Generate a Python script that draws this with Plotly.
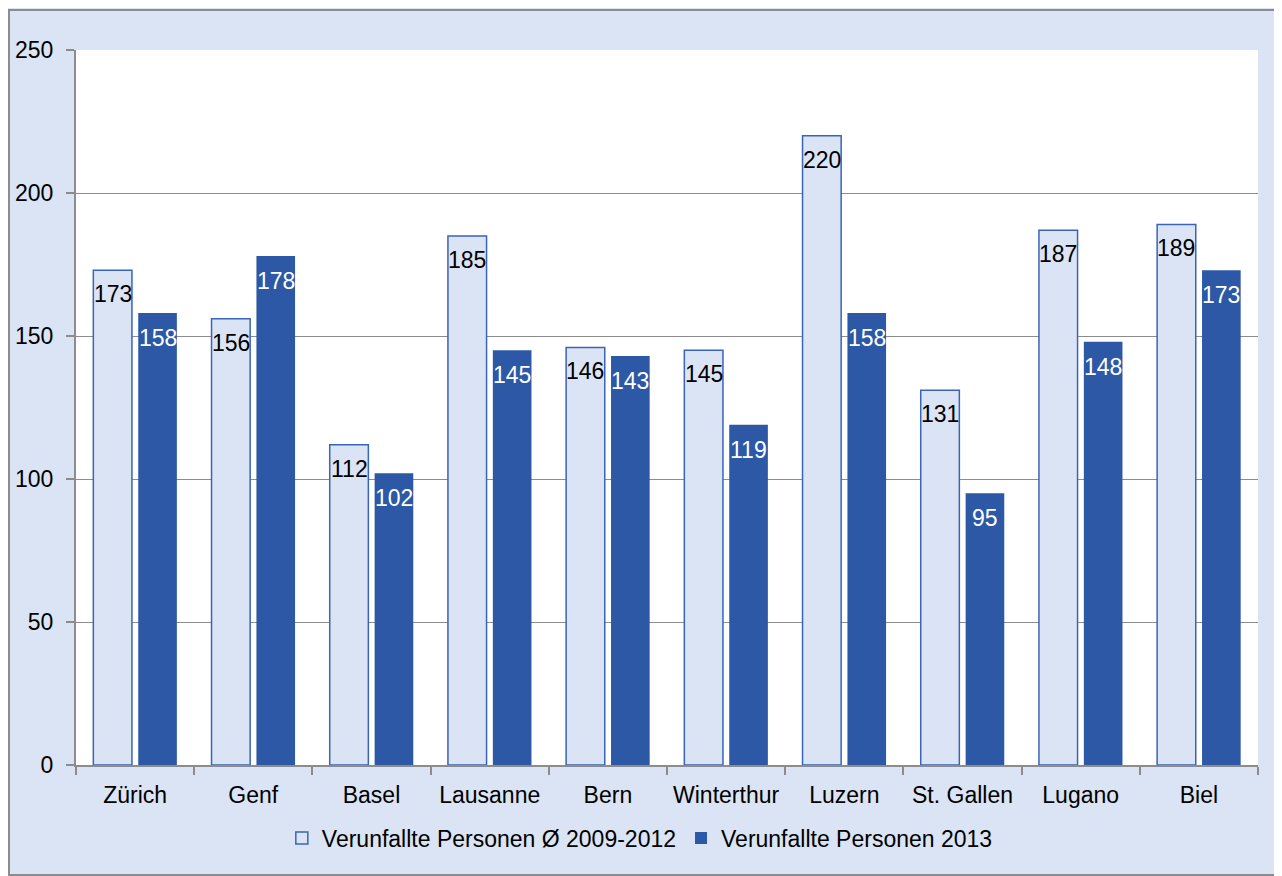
import plotly.graph_objects as go

cities = ["Zürich", "Genf", "Basel", "Lausanne", "Bern", "Winterthur", "Luzern", "St. Gallen", "Lugano", "Biel"]
avg_2009_2012 = [173, 156, 112, 185, 146, 145, 220, 131, 187, 189]
val_2013 = [158, 178, 102, 145, 143, 119, 158, 95, 148, 173]
name_avg = "Verunfallte Personen Ø 2009-2012"
name_2013 = "Verunfallte Personen 2013"
y_ticks = [0, 50, 100, 150, 200, 250]

FONT = "Liberation Sans, Arial, sans-serif"
FS = 23
BG = "#dbe4f4"
DARK = "#2c58a5"
EDGE = "#3a64b5"

fig = go.Figure()
fig.add_trace(go.Bar(
    x=cities, y=avg_2009_2012, name=name_avg,
    marker=dict(color=BG, line=dict(color=EDGE, width=1.5)),
))
fig.add_trace(go.Bar(
    x=cities, y=val_2013, name=name_2013,
    marker=dict(color=DARK, line=dict(color=DARK, width=0)),
))

# data labels, placed just inside the top of each bar
for c, v in zip(cities, avg_2009_2012):
    fig.add_annotation(x=c, y=v, text=str(v), showarrow=False, xshift=-22.5, yshift=-24,
                       yanchor="middle", font=dict(color="black", size=FS, family=FONT))
for c, v in zip(cities, val_2013):
    fig.add_annotation(x=c, y=v, text=str(v), showarrow=False, xshift=22.5, yshift=-25,
                       yanchor="middle", font=dict(color="white", size=FS, family=FONT))

fig.update_layout(
    width=1274, height=868,
    margin=dict(l=68, r=24, t=42, b=111, autoexpand=False),
    paper_bgcolor=BG, plot_bgcolor="white",
    barmode="group", bargap=0.24, bargroupgap=0.14,
    font=dict(family=FONT, size=FS, color="black"),
    legend=dict(orientation="h", x=0.477, xanchor="center", y=-0.102, yanchor="middle",
                bgcolor="rgba(0,0,0,0)", font=dict(size=FS, family=FONT),
                itemwidth=30, tracegroupgap=0),
    showlegend=True,
)
fig.update_yaxes(range=[0, 250], tickvals=y_ticks, showgrid=True, gridcolor="#8c8c8c", gridwidth=1,
                 showline=True, linecolor="#8c8c8c", linewidth=2, ticks="outside", ticklen=8,
                 tickcolor="#8c8c8c", tickwidth=2, zeroline=False, tickfont=dict(size=FS),
                 ticklabelstandoff=8, automargin=False)
fig.update_xaxes(showline=True, linecolor="#8c8c8c", linewidth=2, ticks="outside", ticklen=8,
                 tickcolor="#8c8c8c", tickwidth=2, tickson="boundaries", tickfont=dict(size=FS),
                 ticklabelstandoff=8, automargin=False)

fig.add_shape(type="rect", xref="paper", yref="paper", x0=-0.0567, x1=1.0195, y0=-0.1538, y1=1.056,
              line=dict(color="#8c8c8c", width=2), fillcolor="rgba(0,0,0,0)", layer="below")

fig.write_html("out.html")
